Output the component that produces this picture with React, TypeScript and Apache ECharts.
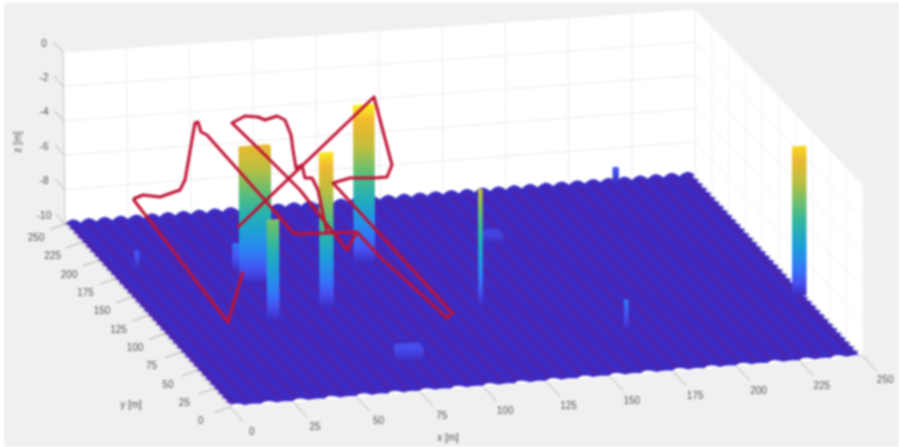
import React, { useEffect, useRef } from "react";
import * as echarts from "echarts";

const W = 899;
const H = 447;

// axis ticks (metres)
const xTicks = [0, 25, 50, 75, 100, 125, 150, 175, 200, 225, 250];
const yTicks = [0, 25, 50, 75, 100, 125, 150, 175, 200, 225, 250];
const zTicks = [0, -2, -4, -6, -8, -10];

// obstacles (metres), painted back to front
const obstacleX0 = [217, 11, 149, 94, 47.5, 45, 125.4, 66.4, 42.6, 77.5, 171.5, 244.8];
const obstacleX1 = [219, 12.6, 156, 102, 50.5, 57, 127, 71.8, 47.3, 87, 172.7, 250];
const obstacleY0 = [247, 185, 182, 170, 172, 155, 103, 117.5, 106, 40, 58, 84];
const obstacleY1 = [249, 187, 190, 172, 178, 158, 104, 118.5, 107, 48, 60, 86];
const obstacleTop = [-9.1, -9.0, -9.5, -0.8, -8.6, -2.1, -3.2, -1.05, -4.2, -9.3, -8.3, -1.25];

// flight track, read in the picture's view plane; null breaks the line where it is hidden
const trackViewX = [133, 143, 160, 180, 185, 192, 195, 198, 201, 207, 263, 293, 297, 327, 318, 312, 305, 302, 296, 293, 291, 285, 277, 265, 258, 245, 232, 265, 300, 347, 357, 327, 357, 380, 447, 452, 333, 350, 375, 387, 392, 374, 237, null, 243, 228, 133];
const trackViewY = [199, 195, 197, 190, 180, 140, 123, 122, 132, 135, 198, 233, 234, 233, 190, 178, 178, 165, 168, 150, 135, 120, 116, 120, 117, 116, 123, 155, 190, 250, 232, 233, 232, 257, 318, 313, 183, 178, 178, 177, 165, 97, 228, null, 272, 322, 199];

// colormap stops (parula) against depth
const colorZ = [-10, -9.2, -8.2, -7, -5.8, -4.6, -3.2, -1.6, -0.95];
const colorRGB = [
  [61, 42, 190],
  [71, 82, 244],
  [45, 129, 247],
  [29, 160, 214],
  [40, 181, 168],
  [102, 191, 114],
  [194, 191, 61],
  [245, 184, 46],
  [249, 240, 30],
];

const ripplePitch = 6.25;
const rippleShape = [0, 0.7, 1, 0.7];

const corners = {
  a0: [230, 407], a1: [863, 356], a2: [695, 175], a3: [65, 224],
  b0: [230, 232], b1: [863, 185], b2: [695, 9], b3: [63, 52],
};

function project(x: number, y: number, z: number) {
  const u = x / 250, v = y / 250, w = (z + 10) / 10;
  const c = corners;
  const out = [0, 0];
  for (let i = 0; i < 2; i++) {
    const lo = c.a0[i] * (1 - u) * (1 - v) + c.a1[i] * u * (1 - v) + c.a2[i] * u * v + c.a3[i] * (1 - u) * v;
    const hi = c.b0[i] * (1 - u) * (1 - v) + c.b1[i] * u * (1 - v) + c.b2[i] * u * v + c.b3[i] * (1 - u) * v;
    out[i] = lo * (1 - w) + hi * w;
  }
  return out;
}

function colorAt(z: number) {
  let i = 0;
  while (i < colorZ.length - 2 && z > colorZ[i + 1]) i++;
  const t = Math.max(0, Math.min(1, (z - colorZ[i]) / (colorZ[i + 1] - colorZ[i])));
  const c = colorRGB[i].map((a, k) => Math.round(a + (colorRGB[i + 1][k] - a) * t));
  return `rgb(${c[0]},${c[1]},${c[2]})`;
}

const poly = (api: any, pts: number[][], style: any) => ({
  type: "polygon",
  shape: { points: pts.map((p) => api.coord(project(p[0], p[1], p[2]))) },
  style,
});
const seg = (api: any, a: number[], b: number[], stroke: string, lineWidth = 1) => {
  const p = api.coord(project(a[0], a[1], a[2]));
  const q = api.coord(project(b[0], b[1], b[2]));
  return { type: "line", shape: { x1: p[0], y1: p[1], x2: q[0], y2: q[1] }, style: { stroke, lineWidth } };
};
const label = (api: any, pos: number[], text: string, extra: any = {}) => {
  const p = api.coord(pos);
  return {
    type: "text",
    x: p[0],
    y: p[1],
    ...extra,
    style: { text, x: 0, y: 0, fill: "#555555", font: '10px "Liberation Sans"', textAlign: "center", textVerticalAlign: "middle" },
  };
};

const GRID_BACK = "#eeeeee";
const GRID_SIDE = "#f5f5f5";
const TICK = "#b0b0a8";

function renderFrame(_: any, api: any) {
  const kids: any[] = [];
  kids.push(poly(api, [[0, 250, -10], [250, 250, -10], [250, 250, 0], [0, 250, 0]], { fill: "#fff" }));
  kids.push(poly(api, [[250, 0, -10], [250, 250, -10], [250, 250, 0], [250, 0, 0]], { fill: "#fff" }));
  for (const x of xTicks) if (x > 0) kids.push(seg(api, [x, 250, -10], [x, 250, 0], GRID_BACK, 1.2));
  for (const y of yTicks) if (y < 250) kids.push(seg(api, [250, y, -10], [250, y, 0], GRID_SIDE, 1.2));
  for (const z of zTicks) {
    kids.push(seg(api, [0, 250, z], [250, 250, z], GRID_BACK, 1.2));
    kids.push(seg(api, [250, 250, z], [250, 0, z], GRID_SIDE, 1.2));
  }
  kids.push(seg(api, [0, 250, -10], [0, 250, 0], "#c4c4c4", 1));
  kids.push(seg(api, [0, 0, -10], [250, 0, -10], "#c8c8c0", 1));
  kids.push(seg(api, [0, 0, -10], [0, 250, -10], "#c8c8c0", 1));
  for (const x of xTicks) kids.push(seg(api, [x, 0, -10], [x, -20, -10], TICK, 1));
  for (const y of yTicks) kids.push(seg(api, [0, y, -10], [-6, y, -10.25], TICK, 1));
  for (const z of zTicks) kids.push(seg(api, [0, 250, z], [0, 264, z], TICK, 1));
  for (const x of xTicks) kids.push(label(api, project(x, -33, -10), String(x)));
  for (const y of yTicks) kids.push(label(api, project(-11.5, y, -10.65), String(y)));
  for (const z of zTicks) kids.push(label(api, [44, project(0, 250, z)[1] - 9], String(z)));
  kids.push(label(api, [448, 437], "x [m]"));
  kids.push(label(api, [131, 404], "y [m]"));
  kids.push(label(api, [17, 142], "z [m]", { rotation: Math.PI / 2 }));
  return { type: "group", children: kids };
}

function renderFloor(_: any, api: any) {
  const kids: any[] = [];
  // white strip showing through the front notches
  kids.push(poly(api, [[0, -0.8, -10], [250, -0.8, -10], [250, 6, -10], [0, 6, -10]], { fill: "#ffffff" }));
  const outline: number[][] = [];
  const n = Math.round(250 / ripplePitch);
  const m = rippleShape.length;
  for (let k = 0; k < n; k++)
    for (let j = 0; j < m; j++) {
      const t = (k + j / m) * ripplePitch;
      const bite = k % 2 === 0 ? rippleShape[j] : rippleShape[j] * 0.3;
      outline.push([t, 0.8 + bite * 3.2, -10]);
    }
  for (let k = 0; k < n; k++)
    for (let j = 0; j < m; j++) outline.push([250 - rippleShape[j] * 1.6, (k + j / m) * ripplePitch, -10]);
  for (let k = 0; k < n; k++)
    for (let j = 0; j < m; j++) outline.push([250 - (k + j / m) * ripplePitch, 250, -10 + rippleShape[j] * 0.24]);
  for (let k = 0; k < n; k++)
    for (let j = 0; j < m; j++) outline.push([rippleShape[j] * 1.6, 250 - (k + j / m) * ripplePitch, -10]);
  kids.push(poly(api, outline, { fill: "#3d2cc4" }));
  for (let k = 0; k < n; k++) {
    const a = k * ripplePitch + 1, b = a + ripplePitch * 0.45;
    kids.push(poly(api, [[a, 4, -10], [b, 4, -10], [b, 248.5, -10], [a, 248.5, -10]], { fill: "#4926b2" }));
  }
  return { type: "group", children: kids };
}

function renderObstacle(_: any, api: any) {
  const i = api.value(2);
  const x0 = obstacleX0[i], x1 = obstacleX1[i], y0 = obstacleY0[i], y1 = obstacleY1[i], top = obstacleTop[i];
  const xc = (x0 + x1) / 2;
  const yTop = api.coord(project(xc, y0, top))[1];
  const yBot = api.coord(project(xc, y0, -10))[1];
  const stops: any[] = [];
  for (let s = 0; s <= 12; s++) {
    const z = top + ((-10 - top) * s) / 12;
    stops.push({ offset: s / 12, color: colorAt(z) });
  }
  const fill = new echarts.graphic.LinearGradient(0, yTop, 0, yBot, stops, true);
  return poly(api, [
    [x0, y1, -10], [x0, y0, -10], [x1, y0, -10],
    [x1, y0, top], [x1, y1, top], [x0, y1, top],
  ], { fill });
}

const single = (renderItem: any, z: number) => ({
  type: "custom",
  coordinateSystem: "cartesian2d",
  renderItem,
  data: [[0, 0, 0]],
  silent: true,
  clip: false,
  z,
});

export default function App() {
  const ref = useRef<HTMLDivElement>(null);
  useEffect(() => {
    document.body.style.margin = "0";
    const chart = echarts.init(ref.current!, undefined, { renderer: "svg", width: W, height: H });
    chart.setOption({
      animation: false,
      backgroundColor: "#ffffff",
      grid: { left: 0, right: 0, top: 0, bottom: 0 },
      xAxis: { type: "value", min: 0, max: W, show: false },
      yAxis: { type: "value", min: 0, max: H, inverse: true, show: false },
      graphic: {
        elements: [
          { type: "rect", z: -10, silent: true, shape: { x: 4, y: 3, width: W - 4, height: H - 3 }, style: { fill: "#f0f0f0" } },
        ],
      },
      series: [
        single(renderFrame, 1),
        single(renderFloor, 2),
        {
          type: "custom",
          coordinateSystem: "cartesian2d",
          renderItem: renderObstacle,
          data: obstacleTop.map((_, i) => [0, 0, i]),
          encode: { x: 0, y: 1 },
          silent: true,
          clip: false,
          z: 3,
        },
        {
          type: "line",
          data: trackViewX.map((x, i) => [x, trackViewY[i]]),
          showSymbol: false,
          silent: true,
          z: 4,
          lineStyle: { color: "rgb(192,18,52)", width: 3, join: "round" },
        },
      ],
    });
    return () => chart.dispose();
  }, []);
  return (
    <div style={{ position: "fixed", left: 0, top: 0, width: W, height: H, overflow: "hidden", background: "#fff" }}>
      <div ref={ref} style={{ width: W, height: H, filter: "blur(1px)" }} />
    </div>
  );
}
